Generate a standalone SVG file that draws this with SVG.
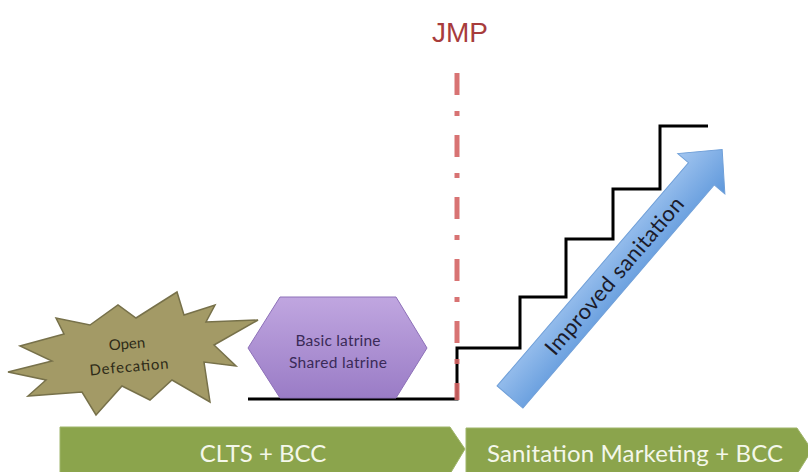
<svg xmlns="http://www.w3.org/2000/svg" width="808" height="472" viewBox="0 0 808 472">
<defs>
<linearGradient id="hexg" x1="0" y1="0" x2="0" y2="1">
<stop offset="0" stop-color="#c0a6e0"/>
<stop offset="1" stop-color="#9a7cc6"/>
</linearGradient>
<linearGradient id="arrg" x1="0" y1="0" x2="0" y2="1">
<stop offset="0" stop-color="#a3c6f0"/>
<stop offset="1" stop-color="#5d97db"/>
</linearGradient>
<style>
.banner{fill:#8ba44c;stroke:#9fb56a;stroke-width:1}
.btext{font-family:Lato,"Open Sans",sans-serif;font-size:24px;fill:#f4f7ea;text-anchor:middle}
.step{fill:none;stroke:#000;stroke-width:3;stroke-linejoin:miter}
.ntext{font-family:Lato,"Open Sans",sans-serif;text-anchor:middle}
</style>
</defs>
<rect width="808" height="472" fill="#fff"/>

<g id="jmp-label">
<text x="460" y="42" font-family="Liberation Sans, Arial, sans-serif" font-size="28" fill="#a83c3c" text-anchor="middle">JMP</text>
</g>

<g id="connectors">
<polyline class="step" points="248,399 457,399 457,348 520,348 520,297 566,297 566,239 613,239 613,189 660,189 660,126 708,126"/>
<line x1="457" y1="73" x2="457" y2="400" stroke="#d46464" stroke-width="5" stroke-dasharray="22 16 5 19" stroke-opacity="0.9"/>
</g>

<g id="open-defecation">
<polygon points="8,372 52,361 20,346 64,334 56,318 90,325 118,305 136,318 177,292 184,315 215,305 206,322 258,320 214,345 236,366 204,362 210,402 172,380 150,400 122,386 96,415 82,392 28,396 46,380" fill="#a39a66" stroke="#77714a" stroke-width="1.5" stroke-linejoin="miter"/>
<g transform="rotate(-5 128 356)">
<text class="ntext" x="128" y="349" font-size="15" fill="#2e2b18">Open</text>
<text class="ntext" x="128" y="372" font-size="15" fill="#2e2b18" textLength="79">Defecation</text>
</g>
</g>

<g id="basic-latrine">
<polygon points="248,348 280,297 396,297 427,348 396,398 280,398" fill="url(#hexg)" stroke="#8d70b8" stroke-width="1"/>
<text class="ntext" x="338" y="346" font-size="15.5" fill="#3a2a58" textLength="85">Basic latrine</text>
<text class="ntext" x="338" y="368" font-size="15.5" fill="#3a2a58" textLength="98">Shared latrine</text>
</g>

<g id="improved-sanitation">
<g transform="translate(510,397) rotate(-49.4)">
<polygon points="0,-17 294,-17 294,-31 326,0 294,31 294,17 0,17" fill="url(#arrg)" stroke="#6f9fd8" stroke-width="1"/>
<text x="160" y="8" font-family="Lato, 'Open Sans', sans-serif" font-size="22" fill="#1b1b2a" text-anchor="middle" textLength="200">Improved sanitation</text>
</g>
</g>

<g id="clts-bcc">
<polygon class="banner" points="60,427 450,427 465,449 450,474 60,474"/>
<text class="btext" x="263" y="462">CLTS + BCC</text>
</g>

<g id="sanitation-marketing">
<polygon class="banner" points="466,428 797,428 812,450 797,474 466,474"/>
<text class="btext" x="635" y="462" textLength="296">Sanitation Marketing + BCC</text>
</g>
</svg>
